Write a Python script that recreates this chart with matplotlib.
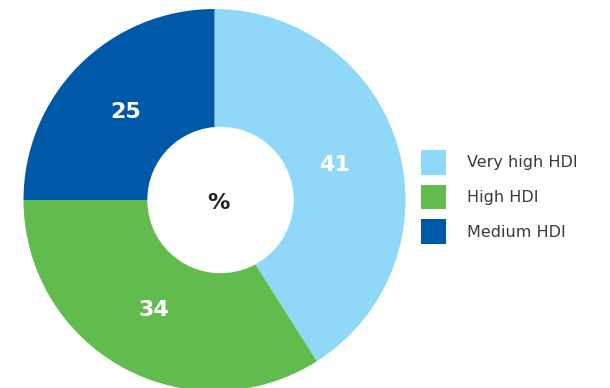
import matplotlib.pyplot as plt
from matplotlib.patches import Patch, Circle

categories = ['Very high HDI', 'High HDI', 'Medium HDI']
shares = [41, 34, 25]
colors = ['#8fd8f8', '#62bb4d', '#0059a8']

W, H = 610, 388
fig = plt.figure(figsize=(W / 100, H / 100), dpi=100)
ax = fig.add_axes([0, 0, 1, 1])

cx, cy, r = 214.5, H - 200, 191
wedges, texts, autotexts = ax.pie(
    shares, colors=colors, startangle=90, counterclock=False,
    center=(cx, cy), radius=r, frame=True,
    autopct=lambda p: f'{p:.0f}', pctdistance=0.655,
    wedgeprops=dict(linewidth=0),
    textprops=dict(color='white', fontsize=16, fontweight='bold'))
ax.set_xlim(0, W)
ax.set_ylim(0, H)
ax.set_aspect('equal')
ax.axis('off')

# center hole
ax.add_patch(Circle((cx + 6, cy), 72.5, color='white', zorder=3))
ax.text(cx + 4, cy - 3, '%', ha='center', va='center', fontsize=16,
        fontweight='bold', color='#231f20', zorder=4)

handles = [Patch(facecolor=c, edgecolor='none') for c in colors]
leg = ax.legend(handles, categories, loc='center left',
                bbox_to_anchor=(421 / W, 1 - 197 / H), frameon=False,
                fontsize=11.5, handlelength=1.55, handleheight=2.03,
                handletextpad=1.35, labelspacing=0.625, borderaxespad=0,
                borderpad=0)
for t in leg.get_texts():
    t.set_color('#3a3a3a')

fig.savefig('out.png', dpi=100)
